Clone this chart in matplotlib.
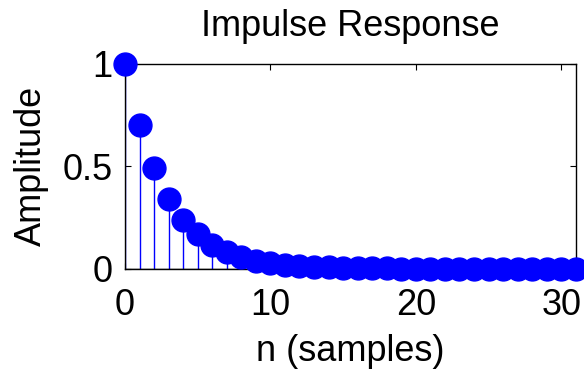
import matplotlib
matplotlib.use("Agg")
from matplotlib import pyplot as plt

plt.rcParams['font.family'] = ['Liberation Sans', 'DejaVu Sans']

# impulse response samples
n = list(range(32))
h = [1.0, 0.7, 0.49, 0.343, 0.24, 0.168, 0.118, 0.082, 0.058, 0.040,
     0.028, 0.020, 0.014, 0.010, 0.007, 0.005, 0.003, 0.002, 0.002, 0.001,
     0.001, 0.001, 0.0, 0.0, 0.0, 0.0, 0.0, 0.0, 0.0, 0.0, 0.0, 0.0]
xticks = [0, 10, 20, 30]
yticks = [0, 0.5, 1]

fig = plt.figure(figsize=(5.84, 3.74), dpi=100)
ax = fig.add_axes([0.214, 0.281, 0.772, 0.548])

markers, stems, base = ax.stem(n, h, linefmt='b-', markerfmt='bo', basefmt='k-')
plt.setp(markers, markersize=16.5, color=(0, 0, 1), clip_on=False, zorder=3)
plt.setp(stems, linewidth=1.0, color=(0, 0, 1))
plt.setp(base, linewidth=1.0, color='k')

ax.set_xlim(0, 31)
ax.set_ylim(0, 1)
ax.set_xticks(xticks)
ax.set_yticks(yticks)
ax.set_yticklabels(['0', '0.5', '1'])
ax.tick_params(direction='in', top=True, right=True, labelsize=26, length=4, width=0.8)
ax.tick_params(axis='x', pad=14)
ax.tick_params(axis='y', pad=9)
for s in ax.spines.values():
    s.set_linewidth(1.0)

ax.set_title("Impulse Response", fontsize=26, pad=20)
ax.set_xlabel("n (samples)", fontsize=26, labelpad=8)
ax.set_ylabel("Amplitude", fontsize=26, labelpad=10)

fig.savefig("out.png", dpi=100)
